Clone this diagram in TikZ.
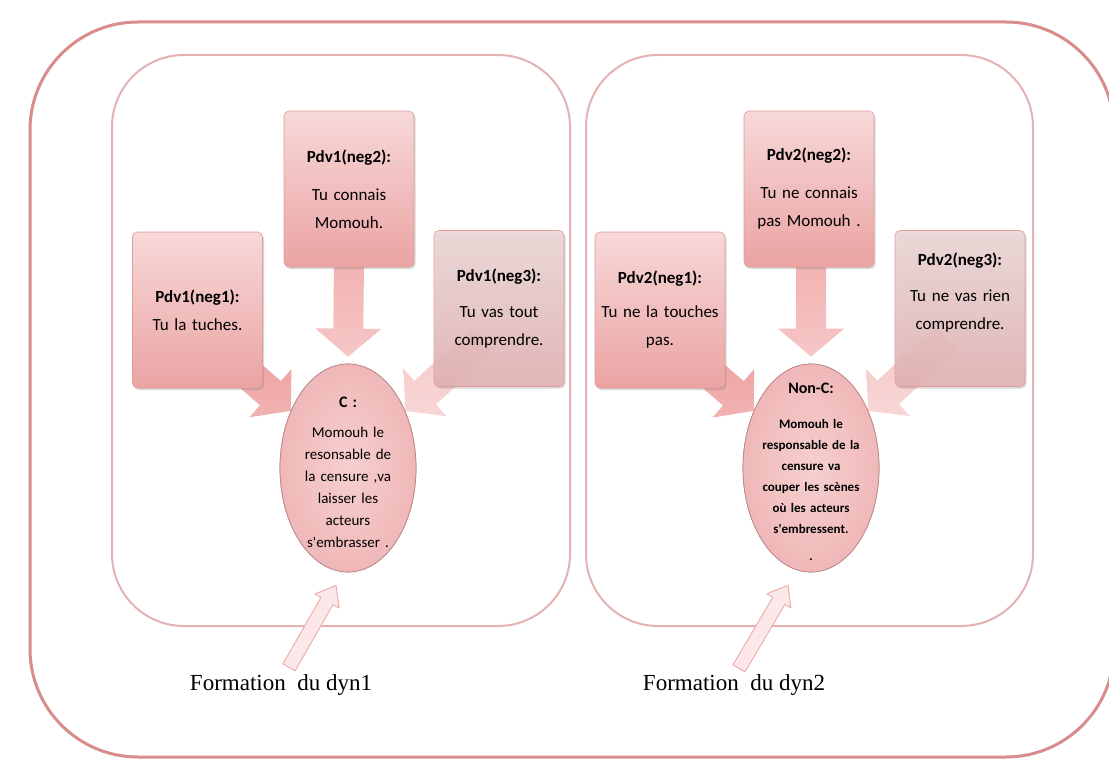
\documentclass[tikz,border=0pt]{standalone}
\usepackage{fontspec}
\setmainfont{Liberation Serif}
\newfontfamily\calibri{Carlito}
\usetikzlibrary{shapes.geometric,shadows,calc}

\definecolor{outerline}{HTML}{D88C8C}
\definecolor{panelline}{HTML}{E4B2B2}
\definecolor{boxtop}{HTML}{F7D8D8}
\definecolor{boxbot}{HTML}{EBA3A3}
\definecolor{boxedge}{HTML}{DE9C9C}
\definecolor{graytop}{HTML}{EED8D8}
\definecolor{graybot}{HTML}{E2B2B2}
\definecolor{ellfill}{HTML}{F0B8B8}
\definecolor{ellin}{HTML}{F6CFCF}
\definecolor{elledge}{HTML}{B88686}
\definecolor{arrA}{HTML}{F2B2B2}
\definecolor{arrB}{HTML}{F6C6C6}
\definecolor{arrC}{HTML}{EE9E9E}
\definecolor{arrD}{HTML}{F8D6D6}
\definecolor{thinedge}{HTML}{EDAAAA}
\definecolor{thinfill}{HTML}{FCE8E8}

% block arrow: style, tail, tip, shaft half width, head half width, head length
\newcommand\blockarrow[6]{%
  \coordinate (bah) at ($(#3)!#6!(#2)$);
  \path[#1] ($(#2)!#4!90:(#3)$) -- ($(bah)!#4!90:(#3)$) -- ($(bah)!#5!90:(#3)$)
    -- (#3) -- ($(bah)!#5!-90:(#3)$) -- ($(bah)!#4!-90:(#3)$)
    -- ($(#2)!#4!-90:(#3)$) -- cycle;}

\begin{document}
\begin{tikzpicture}[x=1pt,y=-1pt,
  pbox/.style={rounded corners=5pt, minimum width=130pt, minimum height=156pt,
    inner sep=2pt, text width=126pt, align=center,
    top color=boxtop, bottom color=boxbot, draw=boxedge, line width=0.6pt,
    drop shadow={shadow xshift=1.5pt, shadow yshift=-2pt, opacity=0.3},
    font=\calibri\fontsize{17}{28}\selectfont},
  gbox/.style={pbox, top color=graytop, bottom color=graybot, fill opacity=0.88, text opacity=1},
  ell/.style={ellipse, minimum width=136pt, minimum height=208pt, inner sep=0pt,
    draw=elledge, line width=0.7pt, inner color=ellin, outer color=ellfill},
  ctext/.style={align=center, text width=114pt},
  lab/.style={font=\fontsize{23}{26}\selectfont, inner sep=0pt}]

\useasboundingbox (0,0) rectangle (1109,760);
\fill[white] (0,0) rectangle (1109,760);

% frames
\draw[outerline, line width=3pt, rounded corners=108pt] (30,22) rectangle (1114,757);
\draw[panelline, line width=2pt, rounded corners=72pt] (112,55) rectangle (570,626);
\draw[panelline, line width=2pt, rounded corners=72pt] (586,55) rectangle (1033,626);

% the two ellipses
\node[ell] (c) at (348,468) {};
\node[ell] (nc) at (811,468) {};

% arrow tails (hidden under the boxes)
\coordinate (tl1) at (215,345);
\coordinate (tt1) at (349,262);
\coordinate (tr1) at (485,338);
\coordinate (tl2) at (677,345);
\coordinate (tt2) at (811,262);
\coordinate (tr2) at (947,338);
\coordinate (ht1) at ($(c.north)+(0,-7)$);
\coordinate (ht2) at ($(nc.north)+(0,-7)$);

% block arrows
\blockarrow{top color=arrC, bottom color=arrA}{tl1}{c.135}{16pt}{32pt}{27pt}
\blockarrow{top color=arrA, bottom color=arrB}{tt1}{ht1}{15pt}{33pt}{28pt}
\blockarrow{top color=arrB, bottom color=arrD}{tr1}{c.45}{16pt}{32pt}{27pt}
\blockarrow{top color=arrC, bottom color=arrA}{tl2}{nc.135}{16pt}{32pt}{27pt}
\blockarrow{top color=arrA, bottom color=arrB}{tt2}{ht2}{15pt}{33pt}{28pt}
\blockarrow{top color=arrB, bottom color=arrD}{tr2}{nc.45}{16pt}{32pt}{27pt}

% ellipses again, above the arrows
\node[ell] at (c) {};
\node[ell] at (nc) {};

% boxes, first panel
\node[pbox] (a1) at (197.5,310) {\textbf{Pdv1(neg1):}\\Tu la tuches.};
\node[pbox] (a2) at (349,189) {\textbf{Pdv1(neg2):}\\[10pt]Tu connais\\Momouh.};
\node[gbox] (a3) at (499,308.5) {\textbf{Pdv1(neg3):}\\[8pt]Tu vas tout\\comprendre.};

% boxes, second panel
\node[pbox] (b1) at (660,310) {\textbf{Pdv2(neg1):}\\[6pt]Tu ne la touches\\pas.};
\node[pbox] (b2) at (809,189) {\textbf{Pdv2(neg2):}\\[10pt]Tu ne connais\\pas Momouh .};
\node[gbox] (b3) at (960,308.5) {\textbf{Pdv2(neg3):}\\[8pt]Tu ne vas rien\\comprendre.\\[6pt]\mbox{}};

% ellipse texts
\node[ctext, font=\calibri\fontsize{15}{22}\selectfont] (ct) at ($(c.center)+(0,4)$)
  {{\bfseries\fontsize{16}{22}\selectfont C :}\\[8pt]Momouh le\\resonsable de\\la censure ,va\\laisser les\\acteurs\\s'embrasser .};
\node[ctext, font=\calibri\bfseries\fontsize{13}{21}\selectfont] (nct) at ($(nc.center)+(0,4)$)
  {{\fontsize{16}{21}\selectfont Non-C:}\\[14pt]Momouh le\\responsable de la\\censure va\\couper les scènes\\où les acteurs\\s'embressent.\\[6pt].};

% captions and their arrows
\node[lab] (f1) at (281,685) {Formation\ \ du dyn1};
\node[lab] (f2) at (734,685) {Formation\ \ du dyn2};
\coordinate (s1) at ($(f1.north)+(8,-7)$);
\coordinate (s2) at ($(f2.north)+(5,-6)$);
\coordinate (e1) at ($(c.south)+(-12,13)$);
\coordinate (e2) at ($(nc.south)+(-23,13)$);
\blockarrow{draw=thinedge, fill=thinfill, line width=0.9pt, line join=round}{s1}{e1}{7pt}{14pt}{18pt}
\blockarrow{draw=thinedge, fill=thinfill, line width=0.9pt, line join=round}{s2}{e2}{7pt}{14pt}{18pt}
\end{tikzpicture}
\end{document}
